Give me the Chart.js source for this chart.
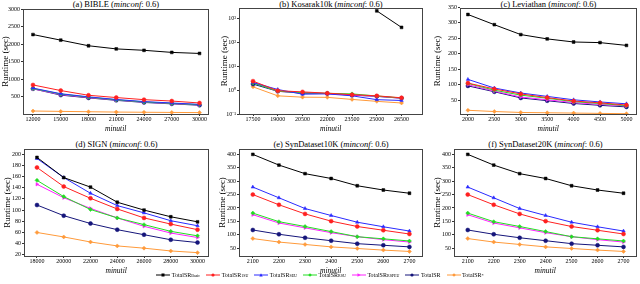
<!DOCTYPE html>
<html>
<head>
<meta charset="utf-8">
<script src="https://cdn.jsdelivr.net/npm/chart.js"></script>
<style>
  body { margin: 0; background: #fff; }
  #wrap { position: relative; width: 640px; height: 284px; overflow: hidden; font-family: "Liberation Serif", serif; }
  .ttl { position: absolute; text-align: center; font-size: 8.5px; line-height: 9px; color: #000; white-space: nowrap; }
  canvas { position: absolute; }
  #legend { position: absolute; left: 0; width: 640px; top: 272px; display: flex; justify-content: center; font-size: 6px; color: #000; }
  #legend span.it { display: inline-flex; align-items: center; margin: 0 3px; }
  #legend sub { font-size: 4px; }
  #legend sup { font-size: 4.5px; }
</style>
</head>
<body>
<div id="wrap"></div>
<script>
// x values (minutil) per dataset
const xBible = [12000, 15000, 18000, 21000, 24000, 27000, 30000];
const xKosarak = [17500, 19000, 20500, 22000, 23500, 25000, 26500];
const xLeviathan = [2000, 2500, 3000, 3500, 4000, 4500, 5000];
const xSign = [18000, 20000, 22000, 24000, 26000, 28000, 30000];
const xSyn = [2100, 2200, 2300, 2400, 2500, 2600, 2700];

// runtimes (sec): Basic, 1SU, SEU, RSU, RSPEU, TotalSR, TotalSR*
const bibleBasic = [2270, 2110, 1950, 1860, 1820, 1760, 1730];
const bible1SU   = [830, 670, 535, 470, 410, 370, 315];
const bibleSEU   = [740, 580, 490, 415, 355, 315, 275];
const bibleRSU   = [730, 570, 480, 405, 345, 305, 265];
const bibleRSPEU = [720, 555, 470, 400, 340, 300, 260];
const bibleTotal = [720, 540, 460, 390, 330, 290, 250];
const bibleStar  = [85, 75, 65, 55, 50, 45, 40];

const kosBasic = [null, null, null, null, null, 2150, 435];
const kos1SU   = [2.4, 0.95, 0.85, 0.75, 0.65, 0.58, 0.48];
const kosSEU   = [2.1, 1.07, 0.68, 0.7, 0.58, 0.4, 0.37];
const kosRSU   = [2.0, 0.92, 0.78, 0.74, 0.7, 0.57, 0.47];
const kosRSPEU = [2.2, 0.9, 0.8, 0.72, 0.63, 0.56, 0.46];
const kosTotal = [1.8, 0.9, 0.75, 0.72, 0.62, 0.55, 0.46];
const kosStar  = [1.38, 0.58, 0.51, 0.5, 0.41, 0.34, 0.29];

const levBasic = [327, 294, 262, 248, 238, 236, 227];
const lev1SU   = [105, 86, 70, 58, 47, 41, 34];
const levSEU   = [117, 89, 73, 62, 51, 44, 38];
const levRSU   = [104, 82, 66, 56, 45, 39, 32];
const levRSPEU = [100, 79, 60, 51, 42, 36, 31];
const levTotal = [96, 77, 57, 48, 39, 33, 28];
const levStar  = [17, 13, 10, 9, 8, 7, 6];

const signBasic = [194, 158, 141, 114, 100, 88, 79];
const sign1SU   = [176, 142, 121, 102, 86, 75, 65];
const signSEU   = [192, 158, 130, 108, 95, 81, 72];
const signRSU   = [153, 124, 101, 86, 74, 62, 54];
const signRSPEU = [146, 122, 103, 86, 71, 59, 51];
const signTotal = [109, 90, 76, 65, 56, 47, 42];
const signStar  = [60, 52, 43, 36, 32, 27, 24];

const syn10Basic = [400, 360, 328, 310, 283, 267, 255];
const syn101SU   = [250, 212, 178, 151, 131, 117, 103];
const syn10SEU   = [278, 238, 198, 172, 147, 130, 114];
const syn10RSU   = [181, 149, 131, 112, 93, 85, 77];
const syn10RSPEU = [175, 144, 126, 108, 93, 82, 73];
const syn10Total = [118, 102, 89, 78, 67, 61, 55];
const syn10Star  = [86, 73, 64, 55, 49, 43, 38];

const syn20Basic = [400, 360, 328, 310, 283, 267, 255];
const syn201SU   = [250, 212, 178, 151, 131, 117, 103];
const syn20SEU   = [278, 238, 198, 172, 147, 130, 114];
const syn20RSU   = [181, 149, 131, 112, 93, 85, 77];
const syn20RSPEU = [175, 144, 126, 108, 93, 82, 73];
const syn20Total = [118, 102, 89, 78, 67, 61, 55];
const syn20Star  = [86, 73, 64, 55, 49, 43, 38];

// y tick labels
const yTicksBible = [500, 1000, 1500, 2000, 2500, 3000];
const yTicksKos = [0.1, 1, 10, 100, 1000];
const yTicksLev = [50, 100, 150, 200, 250, 300, 350];
const yTicksSign = [20, 40, 60, 80, 100, 120, 140, 160, 180, 200];
const yTicksSyn = [50, 100, 150, 200, 250, 300, 350, 400];

const colors = ['#000000', '#ff2020', '#2a2aff', '#22dd22', '#ff22ff', '#15157a', '#ff9a3a'];
const markers = ['rect', 'circle', 'triangle', 'rectRot', 'triangle', 'circle', 'rectRot'];
const legendNames = ['TotalSR<sub>Basic</sub>', 'TotalSR<sub>1SU</sub>', 'TotalSR<sub>SEU</sub>', 'TotalSR<sub>RSU</sub>',
  'TotalSR<sub>RSPEU</sub>', 'TotalSR', 'TotalSR<sup>*</sup>'];

const panels = [
  { title: '(a) BIBLE', x: xBible, xmin: 10920, xmax: 30970, ymin: 0, ymax: 3000, yt: yTicksBible,
    data: [bibleBasic, bible1SU, bibleSEU, bibleRSU, bibleRSPEU, bibleTotal, bibleStar],
    l: 23, t: 9, r: 209, b: 114, yw: 23, tt: 0 },
  { title: '(b) Kosarak10k', x: xKosarak, xmin: 16650, xmax: 27770, ymin: 0.1, ymax: 2840, yt: yTicksKos, log: true,
    data: [kosBasic, kos1SU, kosSEU, kosRSU, kosRSPEU, kosTotal, kosStar],
    l: 239, t: 8, r: 423, b: 114, yw: 20, tt: 0 },
  { title: '(c) Leviathan', x: xLeviathan, xmin: 1850, xmax: 5190, ymin: 5, ymax: 348, yt: yTicksLev,
    data: [levBasic, lev1SU, levSEU, levRSU, levRSPEU, levTotal, levStar],
    l: 460, t: 8, r: 637, b: 114, yw: 28, tt: 0 },
  { title: '(d) SIGN', x: xSign, xmin: 17030, xmax: 30820, ymin: 18, ymax: 209, yt: yTicksSign,
    data: [signBasic, sign1SU, signSEU, signRSU, signRSPEU, signTotal, signStar],
    l: 24, t: 149, r: 209, b: 256, yw: 22, tt: 139.5 },
  { title: '(e) SynDataset10K', x: xSyn, xmin: 2047, xmax: 2750, ymin: 21, ymax: 420, yt: yTicksSyn,
    data: [syn10Basic, syn101SU, syn10SEU, syn10RSU, syn10RSPEU, syn10Total, syn10Star],
    l: 239, t: 149, r: 423, b: 256, yw: 22, tt: 139.5 },
  { title: '(f) SynDataset20K', x: xSyn, xmin: 2047, xmax: 2750, ymin: 21, ymax: 420, yt: yTicksSyn,
    data: [syn20Basic, syn201SU, syn20SEU, syn20RSU, syn20RSPEU, syn20Total, syn20Star],
    l: 454, t: 149, r: 637, b: 256, yw: 22, tt: 139.5 }
];

const supMap = { '-': '⁻', '0': '⁰', '1': '¹', '2': '²', '3': '³' };
function pow10Label(v) {
  const e = Math.round(Math.log10(v));
  return '10' + String(e).split('').map(ch => supMap[ch]).join('');
}

// box round the plot area
const framePlugin = {
  id: 'frame',
  afterDraw(chart) {
    const a = chart.chartArea, ctx = chart.ctx;
    ctx.save();
    ctx.strokeStyle = '#444';
    ctx.lineWidth = 1;
    ctx.strokeRect(Math.round(a.left) + 0.5, Math.round(a.top) + 0.5,
      Math.round(a.right - a.left) - 1, Math.round(a.bottom - a.top));
    ctx.restore();
  }
};

const wrap = document.getElementById('wrap');
const padTop = 5, padRight = 4, xh = 20;
const tickFont = { family: 'Liberation Serif', size: 6 };

panels.forEach(p => {
  const ttl = document.createElement('div');
  ttl.className = 'ttl';
  ttl.style.left = p.l + 'px';
  ttl.style.width = (p.r - p.l) + 'px';
  ttl.style.top = p.tt + 'px';
  ttl.innerHTML = p.title + ' (<i>minconf</i>: 0.6)';
  wrap.appendChild(ttl);

  const cv = document.createElement('canvas');
  const w = p.r - p.l + p.yw + padRight;
  const h = p.b - p.t + padTop + xh;
  cv.width = w; cv.height = h;
  cv.style.left = (p.l - p.yw) + 'px';
  cv.style.top = (p.t - padTop) + 'px';
  cv.style.width = w + 'px';
  cv.style.height = h + 'px';
  wrap.appendChild(cv);

  const datasets = p.data.map((arr, i) => ({
    data: arr.map((v, j) => ({ x: p.x[j], y: v })),
    borderColor: colors[i],
    backgroundColor: colors[i],
    borderWidth: 1,
    pointStyle: markers[i],
    pointRotation: i === 4 ? 90 : 0,
    pointRadius: 2,
    pointBorderWidth: 0.5,
    tension: 0,
    spanGaps: false
  }));

  new Chart(cv, {
    type: 'line',
    data: { datasets },
    options: {
      responsive: false,
      animation: false,
      layout: { padding: { top: padTop, right: padRight, left: 0, bottom: 0 } },
      plugins: { legend: { display: false }, tooltip: { enabled: false } },
      scales: {
        x: {
          type: 'linear', min: p.xmin, max: p.xmax,
          afterBuildTicks: s => { s.ticks = p.x.map(v => ({ value: v })); },
          afterFit: s => { s.height = xh; },
          grid: { drawOnChartArea: false, drawTicks: true, tickLength: 2, tickColor: '#333' },
          border: { display: false },
          ticks: { font: tickFont, color: '#000', padding: 0, maxRotation: 0, autoSkip: false,
                   callback: v => String(v) },
          title: { display: true, text: 'minutil', color: '#000', padding: 0,
                   font: { family: 'Liberation Serif', size: 7.5, style: 'italic' } }
        },
        y: {
          type: p.log ? 'logarithmic' : 'linear', min: p.ymin, max: p.ymax,
          afterBuildTicks: s => { s.ticks = p.yt.map(v => ({ value: v })); },
          afterFit: s => { s.width = p.yw; },
          grid: { drawOnChartArea: false, drawTicks: true, tickLength: 2, tickColor: '#333' },
          border: { display: false },
          ticks: { font: tickFont, color: '#000', padding: 1, autoSkip: false,
                   callback: v => p.log ? pow10Label(v) : String(v) },
          title: { display: true, text: 'Runtime (sec)', color: '#000', padding: 0,
                   font: { family: 'Liberation Serif', size: 9 } }
        }
      }
    },
    plugins: [framePlugin]
  });
});

// legend row
const lg = document.createElement('div');
lg.id = 'legend';
lg.innerHTML = legendNames.map((name, i) => {
  const c = colors[i];
  let mk;
  if (markers[i] === 'rect') mk = `<rect x="5.5" y="1.5" width="3" height="3" fill="${c}"/>`;
  else if (markers[i] === 'circle') mk = `<circle cx="7" cy="3" r="1.6" fill="${c}"/>`;
  else if (markers[i] === 'triangle') mk = i === 4 ? `<path d="M5.5 1.3 L8.7 3 L5.5 4.7 Z" fill="${c}"/>` : `<path d="M7 1.2 L8.7 4.5 L5.3 4.5 Z" fill="${c}"/>`;
  else mk = `<path d="M7 1.2 L8.8 3 L7 4.8 L5.2 3 Z" fill="${c}"/>`;
  return `<span class="it"><svg width="14" height="6"><line x1="0" y1="3" x2="14" y2="3" stroke="${c}" stroke-width="1"/>${mk}</svg>&nbsp;${name}</span>`;
}).join('');
wrap.appendChild(lg);
</script>
</body>
</html>
